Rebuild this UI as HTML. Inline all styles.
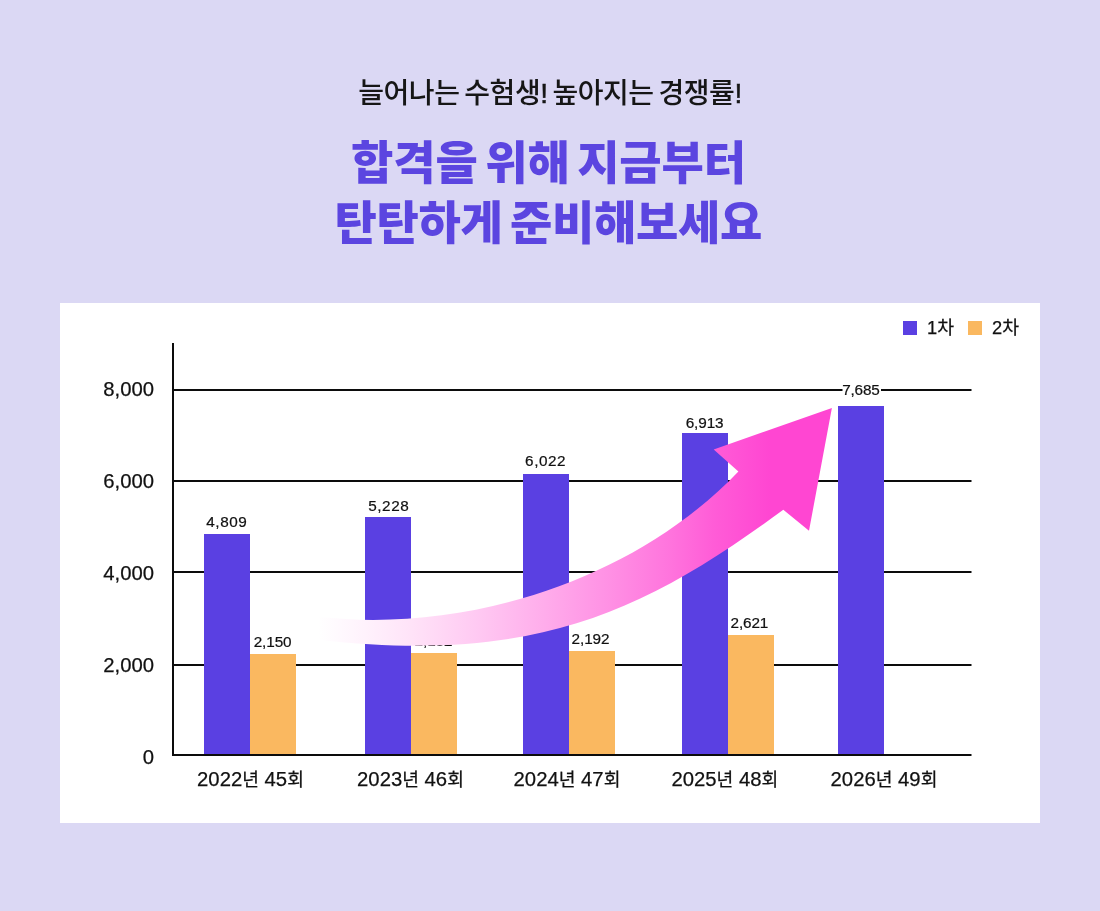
<!DOCTYPE html>
<html lang="ko">
<head>
<meta charset="utf-8">
<title>합격을 위해 지금부터 탄탄하게 준비해보세요</title>
<style>
html,body{margin:0;padding:0;}
body{width:1100px;height:911px;background:#dbd8f4;overflow:hidden;position:relative;
 font-family:"Liberation Sans","Noto Sans CJK KR",sans-serif;}
svg{position:absolute;left:0;top:0;display:block;}
text{font-family:"Liberation Sans","Noto Sans CJK KR",sans-serif;fill:#111;}
.sub{font-size:28px;font-weight:500;fill:#161616;letter-spacing:-0.45px;word-spacing:-2.5px;}
.head{font-size:46px;font-weight:900;fill:#5b45e0;letter-spacing:-0.15px;word-spacing:-5px;}
.ex{stroke:#161616;stroke-width:0.5px;}
.ax{font-size:20.3px;stroke:#111;stroke-width:0.25px;}
.k{font-size:18.2px;}
.lb{font-size:15.3px;letter-spacing:0.55px;stroke:#111;stroke-width:0.22px;}
.lg{font-size:18.3px;stroke:#111;stroke-width:0.25px;}
</style>
</head>
<body>
<svg width="1100" height="911" viewBox="0 0 1100 911">
  <defs>
    <linearGradient id="ag" gradientUnits="userSpaceOnUse" x1="318" y1="0" x2="832" y2="0">
      <stop offset="0" stop-color="#ffffff"/>
      <stop offset="0.0428" stop-color="#fff9fe"/>
      <stop offset="0.0914" stop-color="#fff2fc"/>
      <stop offset="0.1809" stop-color="#ffe3f8"/>
      <stop offset="0.3152" stop-color="#ffc8f2"/>
      <stop offset="0.5681" stop-color="#ff90e4"/>
      <stop offset="0.6848" stop-color="#ff74dd"/>
      <stop offset="0.7704" stop-color="#ff5cd7"/>
      <stop offset="0.8794" stop-color="#ff46d2"/>
    </linearGradient>
  </defs>
  <rect x="0" y="0" width="1100" height="911" fill="#dbd8f4"/>
  <!-- headings -->
  <text class="sub" x="550" y="103" text-anchor="middle">늘어나는 수험생<tspan class="ex">!</tspan> 높아지는 경쟁률<tspan class="ex">!</tspan></text>
  <text class="head" x="548.5" y="179" text-anchor="middle">합격을 위해 지금부터</text>
  <text class="head" x="548.3" y="239" text-anchor="middle" style="letter-spacing:-0.32px">탄탄하게 준비해보세요</text>
  <!-- card -->
  <rect x="60" y="303" width="980" height="520" fill="#ffffff"/>
  <!-- grid -->
  <g fill="#0c0c0c">
    <rect x="172" y="389" width="799.5" height="2"/>
    <rect x="172" y="480" width="799.5" height="2"/>
    <rect x="172" y="571" width="799.5" height="2"/>
    <rect x="172" y="664" width="799.5" height="2"/>
  </g>
  <!-- bars -->
  <g fill="#5a40e2">
    <rect x="204" y="534" width="46" height="221"/>
    <rect x="365" y="517" width="46" height="238"/>
    <rect x="523" y="474" width="46" height="281"/>
    <rect x="682" y="433" width="46" height="322"/>
    <rect x="838" y="406" width="46" height="349"/>
  </g>
  <g fill="#fab860">
    <rect x="250" y="654" width="46" height="101"/>
    <rect x="411" y="653" width="46" height="102"/>
    <rect x="569" y="651" width="46" height="104"/>
    <rect x="728" y="635" width="46" height="120"/>
  </g>
  <g fill="#0c0c0c">
    <rect x="172" y="343" width="2" height="413"/>
    <rect x="172" y="754" width="799.5" height="2"/>
  </g>
  <!-- y labels -->
  <g class="ax" text-anchor="end">
    <text x="154" y="396.2">8,000</text>
    <text x="154" y="488">6,000</text>
    <text x="154" y="580">4,000</text>
    <text x="154" y="672">2,000</text>
    <text x="154" y="764">0</text>
  </g>
  <!-- x labels -->
  <g class="ax" text-anchor="middle">
    <text x="250.5" y="786.3">2022<tspan class="k">년</tspan> 45<tspan class="k">회</tspan></text>
    <text x="410.5" y="786.3">2023<tspan class="k">년</tspan> 46<tspan class="k">회</tspan></text>
    <text x="567" y="786.3">2024<tspan class="k">년</tspan> 47<tspan class="k">회</tspan></text>
    <text x="724.8" y="786.3">2025<tspan class="k">년</tspan> 48<tspan class="k">회</tspan></text>
    <text x="884" y="786.3">2026<tspan class="k">년</tspan> 49<tspan class="k">회</tspan></text>
  </g>
  <!-- value labels -->
  <g class="lb" text-anchor="middle">
    <text x="226.8" y="526.8">4,809</text>
    <text x="388.75" y="511">5,228</text>
    <text x="545.6" y="466">6,022</text>
    <text x="704.6" y="427.8" style="letter-spacing:-0.1px">6,913</text>
    <text x="272.6" y="646.8" style="letter-spacing:-0.1px">2,150</text>
    <text x="433.5" y="645.8" style="letter-spacing:-0.1px">2,182</text>
    <text x="590.5" y="643.8" style="letter-spacing:-0.1px">2,192</text>
    <text x="749.4" y="627.8" style="letter-spacing:-0.1px">2,621</text>
  </g>
  <rect x="842.5" y="380" width="38.5" height="18" fill="#ffffff"/>
  <text class="lb" x="860.9" y="394.8" text-anchor="middle" style="letter-spacing:-0.2px">7,685</text>
  <!-- arrow -->
  <path fill="url(#ag)" d="M318.5,616.8 C462.3,633.6 632.8,582.3 738.4,471.4 L713.7,449.4 L831.9,407.9 L809,530.8 L783.3,509.7 C641.6,614.1 531.6,663.9 318.5,639.7 Z"/>
  <!-- legend -->
  <rect x="903" y="321" width="14" height="14" fill="#5a40e2"/>
  <text class="lg" x="927" y="334.3">1차</text>
  <rect x="968" y="321" width="14" height="14" fill="#fab860"/>
  <text class="lg" x="992" y="334.3">2차</text>
</svg>
</body>
</html>
